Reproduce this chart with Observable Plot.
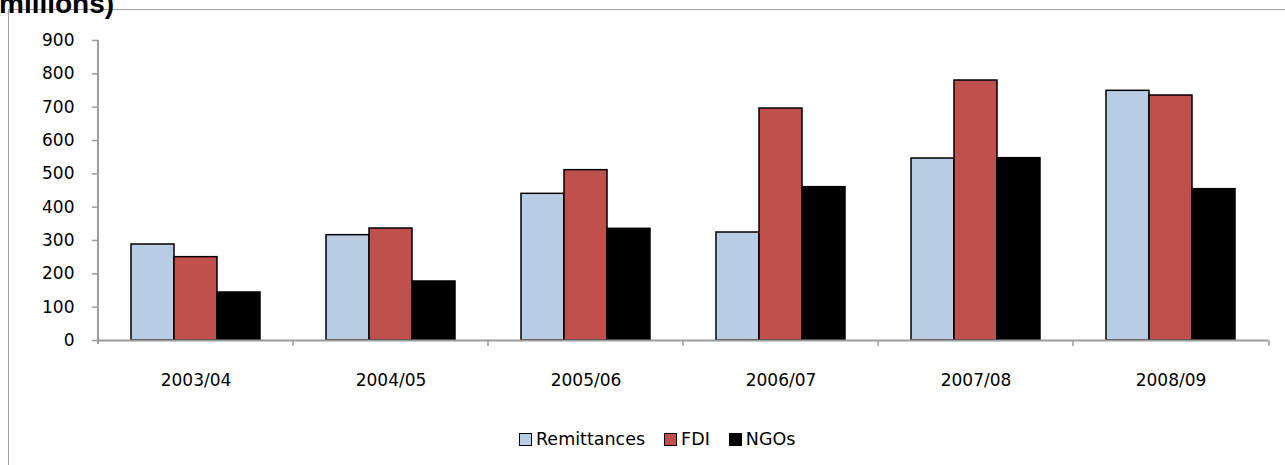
<!DOCTYPE html>
<html>
<head>
<meta charset="utf-8">
<script src="https://cdn.jsdelivr.net/npm/d3@7"></script>
<script src="https://cdn.jsdelivr.net/npm/@observablehq/plot@0.6"></script>
<style>
  body { margin: 0; background: #fff; }
  #wrap { position: relative; width: 1285px; height: 465px; overflow: hidden; background: #fff; }
  #box { position: absolute; left: 8px; top: 9px; width: 1400px; height: 600px; border: 1.5px solid #a3a3a3; }
  #chart { position: absolute; left: 0; top: 0; }
  #title { position: absolute; left: -1px; top: -12px; line-height: 28px; font: bold 28px "Liberation Sans", Arial, sans-serif; color: #000; white-space: nowrap; }
  #legend { position: absolute; left: 519px; top: 429px; height: 20px; display: flex; align-items: center; font: 17.5px "DejaVu Sans", sans-serif; color: #000; }
  #legend .item { display: flex; align-items: center; margin-right: 19px; }
  #legend .sw { width: 13px; height: 13px; box-sizing: border-box; border: 1.5px solid #000; margin-right: 4px; }
</style>
</head>
<body>
<div id="wrap">
  <div id="box"></div>
  <div id="chart"></div>
  <div id="title">millions)</div>
  <div id="legend"></div>
</div>
<script>
// Fiscal years and the three inflows (US$ millions)
const categories = ["2003/04", "2004/05", "2005/06", "2006/07", "2007/08", "2008/09"];
const seriesNames = ["Remittances", "FDI", "NGOs"];
const seriesColors = ["#b8cce4", "#c0504d", "#000000"];
const remittances = [288, 316, 440, 324, 546, 749];
const fdi = [250, 336, 511, 696, 780, 735];
const ngos = [144, 177, 335, 460, 547, 454];
const yTicks = [0, 100, 200, 300, 400, 500, 600, 700, 800, 900];

const valuesBySeries = [remittances, fdi, ngos];
const rows = categories.flatMap((year, i) =>
  seriesNames.map((series, s) => ({ year, series, value: valuesBySeries[s][i] }))
);

const axisGray = "#9c9c9c";

const chart = Plot.plot({
  width: 1285,
  height: 400,
  marginLeft: 96,
  marginRight: 16,
  marginTop: 40,
  marginBottom: 60,
  style: { fontFamily: "DejaVu Sans, sans-serif", fontSize: "17px", color: "#000", background: "none", overflow: "visible" },
  facet: { data: rows, x: "year" },
  fx: { domain: categories, padding: 0, label: null },
  x: { domain: seriesNames, axis: null, paddingInner: 0, paddingOuter: 0.74 },
  y: { domain: [0, 900], label: null },
  color: { domain: seriesNames, range: seriesColors },
  marks: [
    Plot.barY(rows, { x: "series", y: "value", fill: "series", stroke: "#000", strokeWidth: 1.5 }),
    Plot.ruleY([0], { stroke: axisGray, strokeWidth: 2 }),
    Plot.axisY(yTicks, { tickSize: 6, tickPadding: 18, stroke: axisGray, strokeWidth: 1.5, fill: "#000", fontSize: 17, label: null }),
    Plot.axisFx({ anchor: "bottom", tickSize: 0, tickPadding: 33, fontSize: 17, fill: "#000", label: null })
  ]
});

// Axis line on the left and category-boundary ticks along the baseline
const fxScale = chart.scale("fx");
const yScale = chart.scale("y");
const edges = categories.map(c => fxScale.apply(c)).concat([fxScale.range[1]]);
const y0 = yScale.apply(0);
const yTop = yScale.apply(900);
const g = d3.select(chart).append("g").attr("stroke", axisGray);
g.append("line")
  .attr("x1", edges[0]).attr("x2", edges[0])
  .attr("y1", yTop).attr("y2", y0 + 4)
  .attr("stroke-width", 2);
g.selectAll("line.edge").data(edges.slice(1)).join("line")
  .attr("class", "edge")
  .attr("x1", d => d).attr("x2", d => d)
  .attr("y1", y0).attr("y2", y0 + 6)
  .attr("stroke-width", 1.5);

document.getElementById("chart").appendChild(chart);

// Legend
const legend = d3.select("#legend");
seriesNames.forEach((name, i) => {
  const item = legend.append("div").attr("class", "item");
  item.append("div").attr("class", "sw").style("background", seriesColors[i]);
  item.append("span").text(name);
});
</script>
</body>
</html>
